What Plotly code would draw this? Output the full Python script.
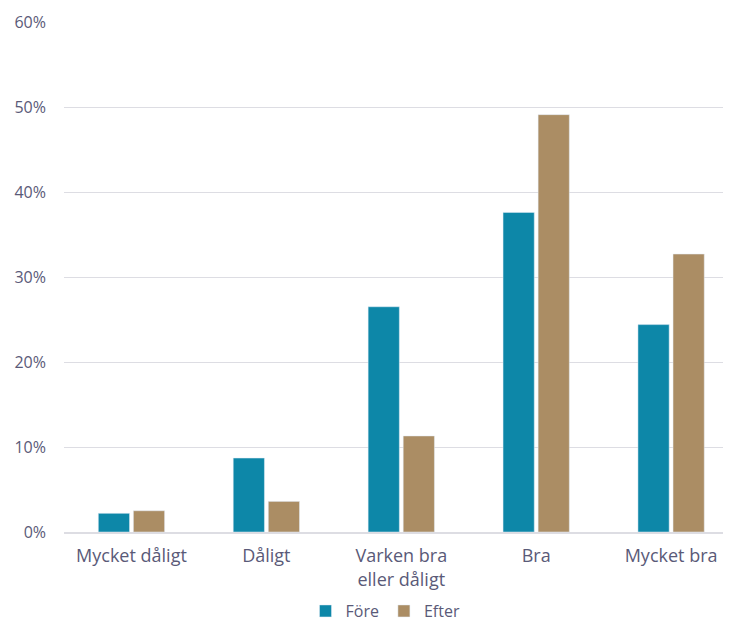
import plotly.graph_objects as go

categories = ["Mycket dåligt", "Dåligt", "Varken bra<br>eller dåligt", "Bra", "Mycket bra"]
fore = [0.022, 0.087, 0.265, 0.376, 0.244]
efter = [0.025, 0.036, 0.113, 0.491, 0.327]
y_ticks = [0, 0.1, 0.2, 0.3, 0.4, 0.5, 0.6]
y_tick_labels = ["0%", "10%", "20%", "30%", "40%", "50%", "60%"]

text_color = "#5a5a78"
font_family = "Open Sans, sans-serif"

fig = go.Figure()
fig.add_trace(go.Bar(name="Före", x=categories, y=fore, marker_color="#0d87a8"))
fig.add_trace(go.Bar(name="Efter", x=categories, y=efter, marker_color="#ab8d64"))

fig.update_layout(
    width=723, height=613,
    margin=dict(l=55.5, r=0, t=14, b=89, autoexpand=False),
    plot_bgcolor="white", paper_bgcolor="white",
    barmode="group", bargap=0.48, bargroupgap=0.11,
    font=dict(family=font_family, color=text_color, size=16),
    legend=dict(orientation="h", x=0.482, xanchor="center", y=-0.155, yanchor="middle",
                font=dict(size=16, color=text_color), traceorder="normal",
                itemwidth=30),
    showlegend=True,
)
fig.update_yaxes(range=[0, 0.6], tickvals=y_ticks, ticktext=y_tick_labels,
                 showgrid=True, gridcolor="#dddde3", gridwidth=1,
                 zeroline=False, showline=False, ticks="", ticklabelstandoff=17,
                 tickfont=dict(size=16, color=text_color))
fig.update_xaxes(range=[-0.5, 4.444], showline=True, linecolor="#dddde3", linewidth=1.5,
                 ticks="", ticklabelstandoff=7,
                 tickfont=dict(size=18, color=text_color))
fig.write_html("out.html")
